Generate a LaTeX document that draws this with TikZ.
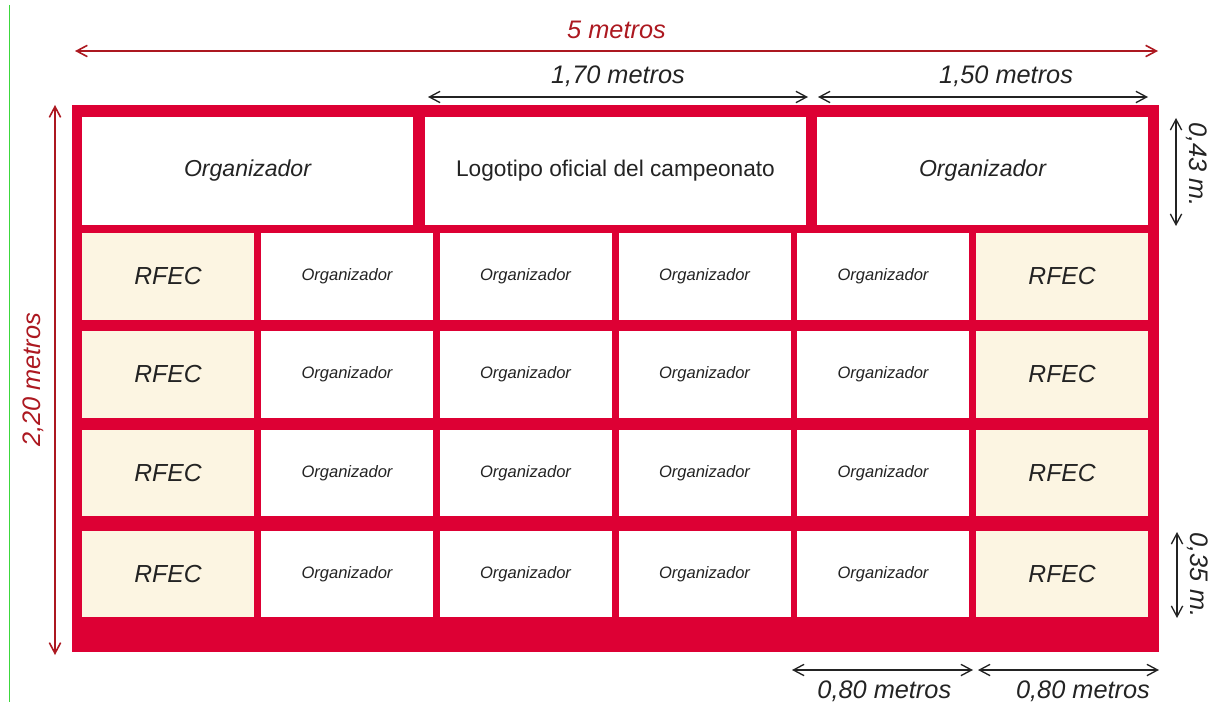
\documentclass[tikz,border=0pt]{standalone}
\usepackage{fontspec}
\setmainfont{Liberation Sans}
\usetikzlibrary{arrows.meta}

\definecolor{panelred}{RGB}{221,0,52}
\definecolor{dimred}{RGB}{172,24,32}
\definecolor{cream}{RGB}{252,245,226}
\definecolor{inkgray}{RGB}{35,35,35}
\definecolor{scangreen}{RGB}{60,215,60}

\begin{document}
\begin{tikzpicture}[x=0.75pt,y=-0.75pt,auto,
    >={Straight Barb[length=8pt,width=8.5pt]},
    cell/.style={minimum width=129pt,minimum height=65pt,
        font=\fontsize{12.4}{14}\selectfont\itshape},
    rfec/.style={fill=cream,font=\fontsize{18.5}{21}\selectfont\itshape},
    topcell/.style={minimum height=81pt,font=\fontsize{17.3}{20}\selectfont\itshape},
    reddim/.style={draw=dimred,line width=1.2pt,text=dimred,inner sep=8.6pt,
        font=\fontsize{19}{22}\selectfont\itshape},
    blackdim/.style={draw=inkgray,line width=1pt,text=inkgray,inner sep=6.9pt,
        font=\fontsize{19}{22}\selectfont\itshape}]
            \useasboundingbox (0,0) rectangle (1212,702);
            % thin line at the left edge
            \coordinate (g1) at (9.5,5);
            \coordinate (g2) at (9.5,702);
            \draw[scangreen,line width=0.7pt] (g1) -- (g2);
            % red panel
            \node[fill=panelred,inner sep=0pt,minimum width=815.25pt,minimum height=410.25pt] (panel) at (615.5,378.5) {};
            \begin{scope}[every node/.style={inner sep=0pt,outer sep=0pt,fill=white,text=inkgray}]
                \node[topcell,minimum width=248.25pt] (top1) at (247.5,171) {Organizador};
                \node[topcell,minimum width=285.75pt,font=\fontsize{17}{20}\selectfont] (top2) at (615.5,171) {Logotipo oficial del campeonato};
                \node[topcell,minimum width=248.25pt] (top3) at (982.5,171) {Organizador};
                % row 2
                \node[cell,rfec] (r2c1) at (168,276.5) {RFEC};
                \node[cell] (r2c2) at (347,276.5) {Organizador};
                \node[cell] (r2c3) at (525.5,276.5) {Organizador};
                \node[cell] (r2c4) at (704.5,276.5) {\raisebox{-3pt}{Organizador}};
                \node[cell] (r2c5) at (883,276.5) {\raisebox{-2pt}{Organizador}};
                \node[cell,rfec] (r2c6) at (1062,276.5) {RFEC};
                % row 3
                \node[cell,rfec] (r3c1) at (168,374.5) {RFEC};
                \node[cell] (r3c2) at (347,374.5) {Organizador};
                \node[cell] (r3c3) at (525.5,374.5) {Organizador};
                \node[cell] (r3c4) at (704.5,374.5) {\raisebox{-3pt}{Organizador}};
                \node[cell] (r3c5) at (883,374.5) {\raisebox{-2pt}{Organizador}};
                \node[cell,rfec] (r3c6) at (1062,374.5) {RFEC};
                % row 4
                \node[cell,rfec] (r4c1) at (168,473) {RFEC};
                \node[cell] (r4c2) at (347,473) {Organizador};
                \node[cell] (r4c3) at (525.5,473) {Organizador};
                \node[cell] (r4c4) at (704.5,473) {\raisebox{-3pt}{Organizador}};
                \node[cell] (r4c5) at (883,473) {\raisebox{-2pt}{Organizador}};
                \node[cell,rfec] (r4c6) at (1062,473) {RFEC};
                % row 5
                \node[cell,rfec] (r5c1) at (168,574) {RFEC};
                \node[cell] (r5c2) at (347,574) {Organizador};
                \node[cell] (r5c3) at (525.5,574) {Organizador};
                \node[cell] (r5c4) at (704.5,574) {\raisebox{-3pt}{Organizador}};
                \node[cell] (r5c5) at (883,574) {\raisebox{-2pt}{Organizador}};
                \node[cell,rfec] (r5c6) at (1062,574) {RFEC};
            \end{scope}
            % ends of the measures
            \coordinate (w1) at (75,51);
            \coordinate (w2) at (1158,51);
            \coordinate (h1) at (55,655);
            \coordinate (h2) at (55,105);
            \coordinate (m1) at (428,97);
            \coordinate (m2) at (808,97);
            \coordinate (m3) at (818,97);
            \coordinate (m4) at (1148,97);
            \coordinate (t1) at (1176,118);
            \coordinate (t2) at (1176,226);
            \coordinate (t3) at (1177,532);
            \coordinate (t4) at (1177,618);
            \coordinate (b1) at (792,670);
            \coordinate (b2) at (973,670);
            \coordinate (b3) at (978,670);
            \coordinate (b4) at (1159,670);
            \draw[reddim] (w1) edge [<->] node{5 metros} (w2);
            \draw[reddim] (h1) edge [<->] node[sloped,inner sep=7.6pt]{2,20 metros} (h2);
            \draw[blackdim] (m1) edge [<->] node{1,70 metros} (m2);
            \draw[blackdim] (m3) edge [<->] node[pos=0.57]{1,50 metros} (m4);
            \draw[blackdim] (t1) edge [<->] node[sloped,pos=0.43]{0,43 m.} (t2);
            \draw[blackdim] (t3) edge [<->] node[sloped]{0,35 m.} (t4);
            \draw[blackdim] (b1) edge [<->] node[swap,inner sep=7.5pt,pos=0.51]{0,80 metros} (b2);
            \draw[blackdim] (b3) edge [<->] node[swap,inner sep=7.5pt,pos=0.58]{0,80 metros} (b4);
        \end{tikzpicture}
\end{document}
